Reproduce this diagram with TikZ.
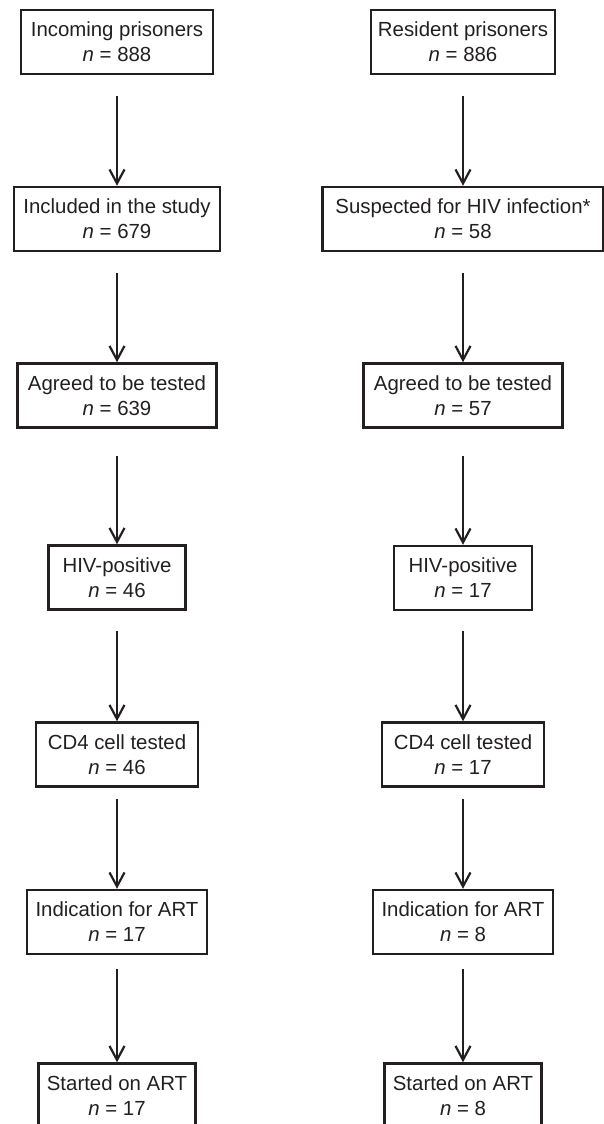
\documentclass[tikz,border=0pt]{standalone}
\usepackage{fontspec}
\setmainfont{Liberation Sans}
\usetikzlibrary{arrows.meta}
\definecolor{inkblack}{RGB}{35,31,32}

\begin{document}
\begin{tikzpicture}[x=0.5pt,y=-0.5pt,
  stagebox/.style={draw=inkblack, line width=1.25pt, align=center,
    minimum height=32pt, inner xsep=0pt, inner ysep=0pt, text=inkblack,
    font=\fontsize{10.2}{12.5}\selectfont},
  flow/.style={-{Straight Barb[length=7pt,width=7.5pt]}, line width=1.1pt, draw=inkblack}]
\useasboundingbox (0,0) rectangle (604,1124);

% Incoming prisoners
\node[stagebox, minimum width=96pt]   (in1) at (117,42)     {Incoming prisoners\\\textit{n} = 888};
\node[stagebox, minimum width=103pt]  (in2) at (117,219)    {Included in the study\\\textit{n} = 679};
\node[stagebox, minimum width=99.5pt] (in3) at (117,395.5)  {Agreed to be tested\\\textit{n} = 639};
\node[stagebox, minimum width=68.5pt] (in4) at (117,577.5)  {HIV-positive\\\textit{n} = 46};
\node[stagebox, minimum width=81pt]   (in5) at (117,754.5)  {CD4 cell tested\\\textit{n} = 46};
\node[stagebox, minimum width=90pt]   (in6) at (117,922)    {Indication for ART\\\textit{n} = 17};
\node[stagebox, minimum width=78.5pt] (in7) at (117,1095.5) {Started on ART\\\textit{n} = 17};

% Resident prisoners
\node[stagebox, minimum width=92pt]    (re1) at (463,42)     {Resident prisoners\\\textit{n} = 886};
\node[stagebox, minimum width=140.5pt] (re2) at (463,219)    {Suspected for HIV infection*\\\textit{n} = 58};
\node[stagebox, minimum width=99.5pt]  (re3) at (463,395.5)  {Agreed to be tested\\\textit{n} = 57};
\node[stagebox, minimum width=69pt]    (re4) at (463,578)    {HIV-positive\\\textit{n} = 17};
\node[stagebox, minimum width=81pt]    (re5) at (463,754.5)  {CD4 cell tested\\\textit{n} = 17};
\node[stagebox, minimum width=90pt]    (re6) at (463,922)    {Indication for ART\\\textit{n} = 8};
\node[stagebox, minimum width=78.5pt]  (re7) at (463,1095.5) {Started on ART\\\textit{n} = 8};

% Arrows, gap left under each box
\foreach \col in {in,re} {
  \foreach \i/\j/\gap in {1/2/10.5pt,2/3/10.5pt,3/4/13.5pt,4/5/10pt,5/6/5.5pt,6/7/7pt}
    \draw[flow, shorten <=\gap] (\col\i) -- (\col\j);
}
\end{tikzpicture}
\end{document}
